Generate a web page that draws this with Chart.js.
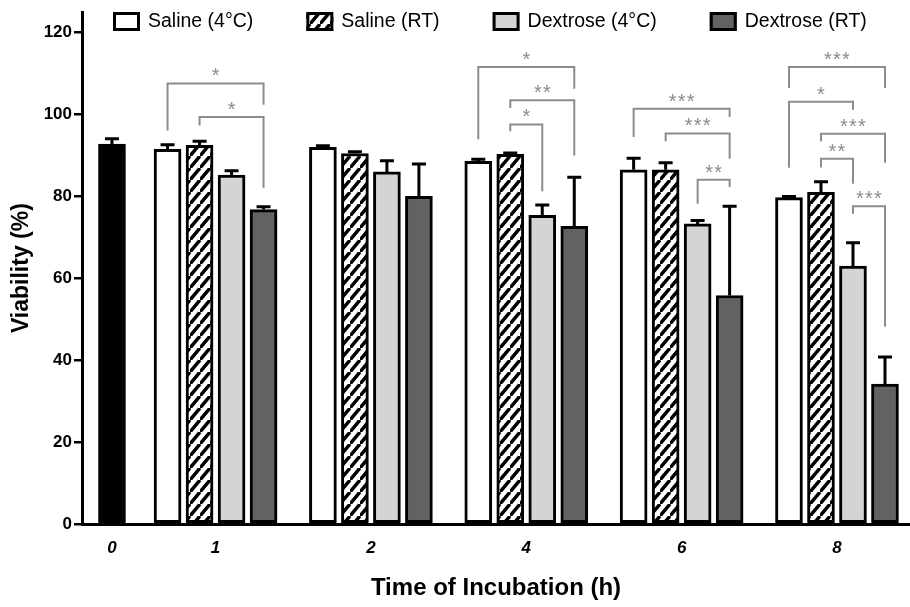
<!DOCTYPE html>
<html>
<head>
<meta charset="utf-8">
<script src="https://cdn.jsdelivr.net/npm/chart.js@4.4.1/dist/chart.umd.min.js"></script>
<style>
	html, body { margin: 0; padding: 0; background: #fff; }
	#wrap { width: 910px; height: 607px; }
</style>
</head>
<body>
<div id="wrap"><canvas id="chart" width="910" height="607"></canvas></div>
<script>
const timePoints = ['0', '1', '2', '4', '6', '8']
const yTicks = [0, 20, 40, 60, 80, 100, 120]

const control = [92.8, null, null, null, null, null]
const controlErr = [1.3, null, null, null, null, null]
const salineCold = [null, 91.5, 92.0, 88.6, 86.5, 79.7]
const salineColdErr = [null, 1.1, 0.4, 0.5, 2.8, 0.3]
const salineRT = [null, 92.5, 90.5, 90.3, 86.5, 81.0]
const salineRTErr = [null, 1.0, 0.4, 0.3, 1.7, 2.6]
const dextroseCold = [null, 85.2, 86.0, 75.4, 73.3, 63.0]
const dextroseColdErr = [null, 1.1, 2.7, 2.5, 0.8, 5.7]
const dextroseRT = [null, 76.8, 80.0, 72.7, 55.8, 34.2]
const dextroseRTErr = [null, 0.7, 7.9, 12.0, 21.8, 6.6]

// time, from bar, to bar, bracket level, leg end (from), leg end (to), stars
const brackets = [
	['1', 0, 3, 107.6, 96.1, 102.4, '*'],
	['1', 1, 3, 99.4, 97.3, 82.1, '*'],
	['4', 0, 3, 111.6, 94.0, 106.3, '*'],
	['4', 1, 3, 103.5, 101.6, 90.0, '**'],
	['4', 1, 2, 97.6, 95.9, 81.3, '*'],
	['6', 0, 3, 101.4, 94.5, 99.4, '***'],
	['6', 1, 3, 95.4, 93.5, 89.2, '***'],
	['6', 2, 3, 84.1, 78.2, 82.3, '**'],
	['8', 0, 3, 111.6, 106.5, 106.5, '***'],
	['8', 0, 2, 103.1, 87.0, 101.2, '*'],
	['8', 1, 3, 95.3, 93.5, 88.2, '***'],
	['8', 1, 2, 89.2, 87.1, 83.1, '**'],
	['8', 2, 3, 77.6, 75.8, 48.2, '***'],
]

const FONT = 'Arial, "Liberation Sans", sans-serif'

// group 0 sits closer to group 1 than the others do
const groupSlot = [0, 2, 5, 8, 11, 14]
const toPoints = (values) => values.map((y, i) => ({ x: groupSlot[i], y }))

const hatch = (() => {
	const w = 10
	const h = 12
	const c = document.createElement('canvas')
	c.width = w
	c.height = h
	const g = c.getContext('2d')
	g.fillStyle = '#fff'
	g.fillRect(0, 0, w, h)
	g.strokeStyle = '#000'
	g.lineWidth = 3.4
	g.beginPath()
	g.moveTo(0, h)
	g.lineTo(w, 0)
	g.moveTo(-w, h)
	g.lineTo(0, 0)
	g.moveTo(w, 2 * h)
	g.lineTo(2 * w, h)
	g.stroke()
	return g.createPattern(c, 'repeat')
})()

const barStyle = {
	borderColor: '#000',
	borderWidth: 3,
	borderSkipped: false,
	barThickness: 32,
	maxBarThickness: 27,
	skipNull: true,
}

const datasets = [
	{ label: 'Control', data: toPoints(control), errors: controlErr, backgroundColor: '#000', ...barStyle },
	{ label: 'Saline (4°C)', data: toPoints(salineCold), errors: salineColdErr, backgroundColor: '#fff', ...barStyle },
	{ label: 'Saline (RT)', data: toPoints(salineRT), errors: salineRTErr, backgroundColor: hatch, ...barStyle },
	{ label: 'Dextrose (4°C)', data: toPoints(dextroseCold), errors: dextroseColdErr, backgroundColor: '#d4d4d4', ...barStyle },
	{ label: 'Dextrose (RT)', data: toPoints(dextroseRT), errors: dextroseRTErr, backgroundColor: '#626262', ...barStyle },
]

const errorBars = {
	id: 'errorBars',
	afterDatasetsDraw(chart) {
		const { ctx } = chart
		const y = chart.scales.y
		ctx.save()
		ctx.strokeStyle = '#000'
		ctx.lineWidth = 3
		chart.data.datasets.forEach((dataset, i) => {
			chart.getDatasetMeta(i).data.forEach((bar, j) => {
				const value = dataset.data[j].y
				const err = dataset.errors[j]
				if (value === null || !err) return
				const top = y.getPixelForValue(value + err)
				ctx.beginPath()
				ctx.moveTo(bar.x, bar.y)
				ctx.lineTo(bar.x, top)
				ctx.moveTo(bar.x - 7, top)
				ctx.lineTo(bar.x + 7, top)
				ctx.stroke()
			})
		})
		ctx.restore()
	},
}

const sigBrackets = {
	id: 'sigBrackets',
	afterDatasetsDraw(chart) {
		const { ctx } = chart
		const y = chart.scales.y
		ctx.save()
		ctx.strokeStyle = '#8c8c8c'
		ctx.fillStyle = '#8c8c8c'
		ctx.lineWidth = 2
		ctx.font = '20px ' + FONT
		ctx.textAlign = 'center'
		ctx.textBaseline = 'alphabetic'
		brackets.forEach(([time, from, to, level, legFrom, legTo, stars]) => {
			const j = timePoints.indexOf(time)
			const xa = chart.getDatasetMeta(from + 1).data[j].x
			const xb = chart.getDatasetMeta(to + 1).data[j].x
			const yl = y.getPixelForValue(level)
			ctx.beginPath()
			ctx.moveTo(xa, y.getPixelForValue(legFrom))
			ctx.lineTo(xa, yl)
			ctx.lineTo(xb, yl)
			ctx.lineTo(xb, y.getPixelForValue(legTo))
			ctx.stroke()
			const mid = (xa + xb) / 2
			for (let k = 0; k < stars.length; k++) {
				ctx.fillText('*', mid + (k - (stars.length - 1) / 2) * 9, yl - 1)
			}
		})
		ctx.restore()
	},
}

// legend sits inside the plot, level with the 120 tick
const topLegend = {
	id: 'topLegend',
	afterDraw(chart) {
		const { ctx } = chart
		ctx.save()
		ctx.font = '19.5px ' + FONT
		ctx.textBaseline = 'middle'
		ctx.textAlign = 'left'
		let x = 113
		chart.data.datasets.slice(1).forEach((dataset) => {
			ctx.fillStyle = dataset.backgroundColor
			ctx.fillRect(x, 12, 27, 19)
			ctx.lineWidth = 3
			ctx.strokeStyle = '#000'
			ctx.strokeRect(x + 1.5, 13.5, 24, 16)
			ctx.fillStyle = '#000'
			ctx.fillText(dataset.label, x + 35, 22)
			x += 35 + ctx.measureText(dataset.label).width + 53
		})
		ctx.restore()
	},
}

new Chart(document.getElementById('chart'), {
	type: 'bar',
	data: { datasets },
	options: {
		responsive: false,
		animation: false,
		layout: { padding: { top: 11, right: 0, bottom: 0, left: 0 } },
		plugins: {
			legend: { display: false },
			tooltip: { enabled: false },
		},
		scales: {
			x: {
				type: 'linear',
				min: -0.579,
				max: 15.41,
				offset: false,
				afterFit: (scale) => { scale.height = 83 },
				afterBuildTicks: (scale) => { scale.ticks = groupSlot.map((value) => ({ value })) },
				ticks: {
					callback: (value) => timePoints[groupSlot.indexOf(value)],
					font: { family: FONT, size: 17, weight: 'bold', style: 'italic' },
					color: '#000',
					padding: 14,
					autoSkip: false,
					maxRotation: 0,
				},
				grid: { display: true, drawOnChartArea: false, drawTicks: false },
				border: { color: '#000', width: 3 },
				title: {
					display: true,
					text: 'Time of Incubation (h)',
					color: '#000',
					font: { family: FONT, size: 24, weight: 'bold' },
					padding: { top: 0, bottom: 4 },
				},
			},
			y: {
				min: 0,
				max: 125,
				afterFit: (scale) => { scale.width = 82 },
				afterBuildTicks: (scale) => { scale.ticks = yTicks.map((value) => ({ value })) },
				ticks: {
					font: { family: FONT, size: 17, weight: 'bold' },
					color: '#000',
					padding: 2,
				},
				grid: { drawOnChartArea: false, tickLength: 8, color: '#000', lineWidth: 2.5 },
				border: { color: '#000', width: 3 },
				title: {
					display: true,
					text: 'Viability (%)',
					color: '#000',
					font: { family: FONT, size: 23, weight: 'bold' },
					padding: { top: 8, bottom: 0 },
				},
			},
		},
	},
	plugins: [errorBars, sigBrackets, topLegend],
})
</script>
</body>
</html>
